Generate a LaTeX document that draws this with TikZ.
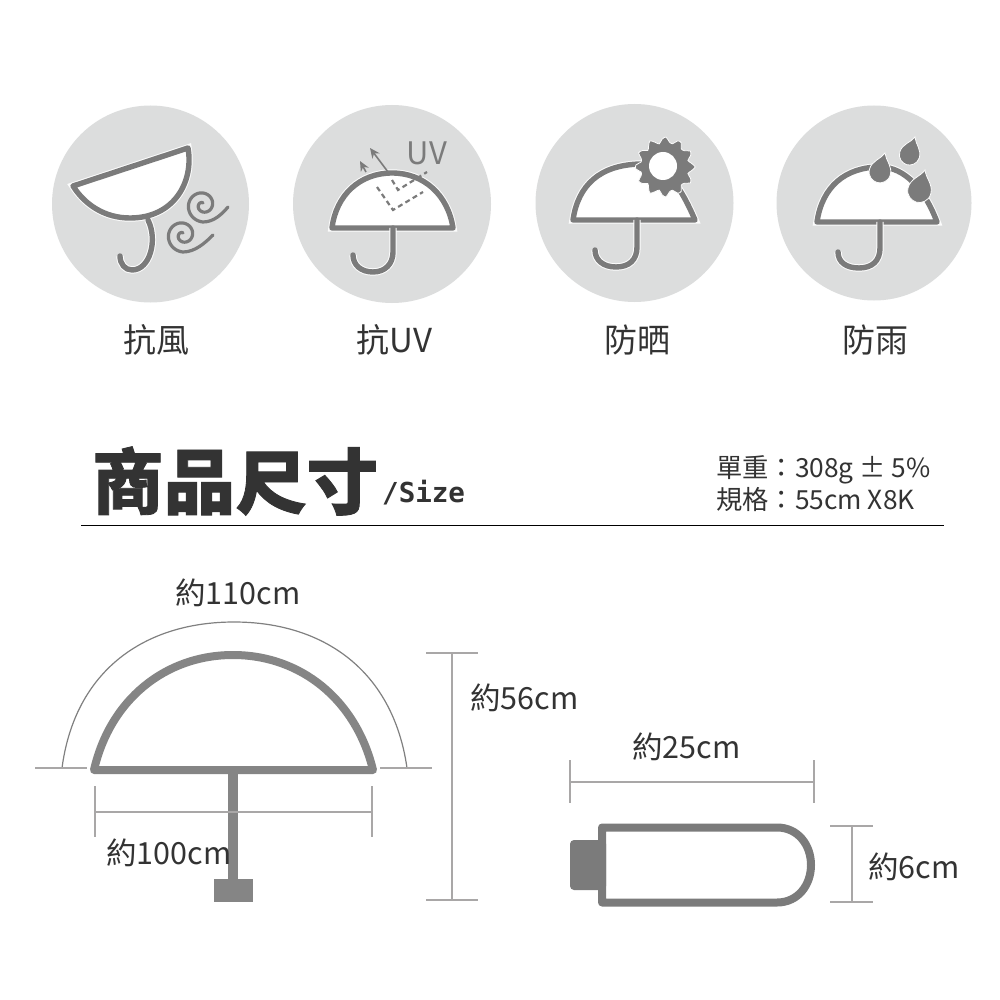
\documentclass[tikz,border=0pt]{standalone}
\usepackage{fontspec}
\usetikzlibrary{arrows.meta}
\setmainfont{Noto Sans CJK TC}
\newfontfamily\headfont[BoldFeatures={FakeBold=1.2}]{Noto Sans CJK TC}
\newfontfamily\sizefont{DejaVu Sans Mono}
\definecolor{disc}{HTML}{DCDDDD}
\definecolor{ink}{HTML}{7B7B7B}
\definecolor{bigink}{HTML}{858585}
\definecolor{dimc}{HTML}{A9A7A7}
\definecolor{txt}{HTML}{333333}
\tikzset{
  x=1pt,y=-1pt,
  discshape/.style={fill=disc,draw=none},
  iconline/.style={draw=ink,line width=5.4pt,line cap=round,line join=round,
    preaction={draw=white!92!disc,line width=7.4pt}},
  canopy/.style={iconline,fill=white},
  thinicon/.style={draw=ink,line width=3.2pt,line cap=round},
  dashray/.style={draw=ink,line width=2.2pt,dash pattern=on 5pt off 3.5pt},
  ray/.style={draw=ink,line width=1.6pt,-{Stealth[length=10pt,width=9pt]}},
  dropfill/.style={fill=ink,draw=white!92!disc,line width=.8pt},
  dimline/.style={draw=dimc,line width=1.6pt},
  archline/.style={draw=black!50,line width=1.2pt},
  bigline/.style={draw=bigink,line width=8pt,line join=round,line cap=round},
  label/.style={text=txt,inner sep=0pt,font=\fontsize{33}{36}\selectfont},
  dimlabel/.style={text=txt,inner sep=0pt,anchor=west,font=\fontsize{30.5}{34}\selectfont},
  speclabel/.style={text=txt,inner sep=0pt,anchor=west,font=\fontsize{26.3}{30}\selectfont}
}
\newcommand{\mydrop}[4]{%
  \begin{scope}[shift={(#1,#2)},rotate=#3,scale=#4]
    \path[dropfill] (0,0) .. controls (3,8) and (12,12) .. (12,22)
      .. controls (12,30) and (5,34) .. (0,34)
      .. controls (-5,34) and (-12,30) .. (-12,22)
      .. controls (-12,12) and (-3,8) .. (0,0) -- cycle;
  \end{scope}}
\begin{document}
\begin{tikzpicture}
\useasboundingbox (0,0) rectangle (1000,1000);
\fill[white] (0,0) rectangle (1000,1000);

% discs
\fill[discshape] (150.5,204) circle[radius=98.5];
\fill[discshape] (392,204) circle[radius=99];
\fill[discshape] (634.5,203) circle[radius=99];
\fill[discshape] (874,203) circle[radius=97.5];

% icon 1: wind
\path[canopy] (73,186) -- (188,148) .. controls (194,182) and (174,218) .. (130,218)
  .. controls (105,218) and (85,205) .. (73,186) -- cycle;
\path[iconline] (148,220) .. controls (158,240) and (150,270) .. (132,270)
  .. controls (125,270) and (120,264) .. (120,256);
\draw[thinicon] plot[domain=630:90,samples=80]
   ({203+(2+15*(630-\x)/540)*cos(\x)},{205+(2+15*(630-\x)/540)*sin(\x)})
   .. controls (214,222) and (222,214) .. (228,207);
\draw[thinicon] plot[domain=630:90,samples=80]
   ({183+(2+15*(630-\x)/540)*cos(\x)},{235+(2+15*(630-\x)/540)*sin(\x)})
   .. controls (195,252) and (205,243) .. (213,235);

% icon 2: UV
\path[canopy] (332,228) .. controls (336,195) and (360,173) .. (392,173)
  .. controls (424,173) and (448,195) .. (453,228) -- cycle;
\path[iconline] (393,228) -- (393,252) .. controls (393,264) and (385,272) .. (373,272)
  .. controls (361,272) and (353,265) .. (353,255);
\draw[dashray] (377,187) -- (393,210) -- (423,192);
\draw[dashray] (392,180) -- (398,190) -- (427,172);
\draw[ray] (388,172) -- (370,148);
\draw[ray] (366,172) -- (360,161);
\node[inner sep=0pt,text=ink,font=\fontsize{31}{34}\selectfont] (uv) at (427,153) {UV};

% icon 3: sun
\path[canopy] (573,220) .. controls (578,185) and (600,165) .. (640,164)
  .. controls (665,164) and (680,185) .. (695,220) -- cycle;
\path[iconline] (637,220) -- (637,247) .. controls (637,260) and (629,267) .. (616,267)
  .. controls (603,267) and (595,260) .. (595,250);
\draw[fill=ink,draw=white!92!disc,line width=.8pt] plot[smooth cycle,domain=0:352,samples=45]
  ({665+(27+3.2*cos(12*\x))*cos(\x)},{167+(27+3.2*cos(12*\x))*sin(\x)});
\fill[white] (663,166) circle[radius=14];

% icon 4: rain
\path[canopy] (817,222) .. controls (822,187) and (845,167) .. (880,167)
  .. controls (905,167) and (925,190) .. (937,222) -- cycle;
\path[iconline] (880,222) -- (880,248) .. controls (880,261) and (872,268) .. (859,268)
  .. controls (846,268) and (838,262) .. (838,252);
\mydrop{915}{137}{-17}{.85}
\mydrop{885}{153}{-15}{.9}
\mydrop{925}{170}{-15}{.98}

% captions
\node[label] (capa) at (156,340) {抗風};
\node[label] (capb) at (394.5,340) {抗UV};
\node[label] (capc) at (637,340) {防晒};
\node[label] (capd) at (875,340) {防雨};

% heading
\node[inner sep=0pt,anchor=west,text=txt,font=\headfont\bfseries\fontsize{71.5}{76}\selectfont] (head) at (92,481) {商品尺寸};
\node[inner sep=0pt,anchor=west,text=txt,font=\sizefont\bfseries\fontsize{27.5}{30}\selectfont] (size) at (382,493) {/Size};
\node[speclabel] (speca) at (716,470) {單重：308g ± 5\%};
\node[speclabel] (specb) at (716,500) {規格：55cm X8K};
\draw[black,line width=1.3pt] (81,525.5) -- (944,525.5);

% open umbrella
\draw[archline] (62,768) .. controls (75,670) and (145,622) .. (234,622)
  .. controls (323,622) and (393,670) .. (407,768);
\draw[dimline] (35,768) -- (87,768);
\draw[dimline] (380,768) -- (432,768);
\draw[bigline] (94,770) .. controls (110,700) and (165,655) .. (233,655)
  .. controls (301,655) and (356,700) .. (373,770) -- cycle;
\draw[draw=bigink,line width=10pt] (233,770) -- (233,882);
\fill[bigink] (214,879) rectangle (253,902);
\draw[dimline] (95,786) -- (95,837);
\draw[dimline] (372,786) -- (372,837);
\draw[dimline] (95,812) -- (372,812);
\draw[dimline] (426,653) -- (478,653);
\draw[dimline] (426,900) -- (478,900);
\draw[dimline,line width=1.3pt] (452,653) -- (452,900);
\node[dimlabel] (d110) at (175,593) {約110cm};
\node[dimlabel] (d100) at (106,853) {約100cm};
\node[dimlabel] (d56) at (470,698) {約56cm};

% folded umbrella
\fill[ink,rounded corners=4pt] (570,840) rectangle (606,890);
\draw[draw=ink,line width=8pt,line join=round] (602,827.5) -- (777,827.5)
  .. controls (798,827.5) and (811,845) .. (811,865)
  .. controls (811,885) and (798,902.5) .. (777,902.5) -- (602,902.5) -- cycle;
\draw[dimline] (570,760) -- (570,803);
\draw[dimline] (814,760) -- (814,803);
\draw[dimline] (570,782) -- (814,782);
\draw[dimline] (830,826) -- (873,826);
\draw[dimline] (830,902) -- (873,902);
\draw[dimline,line width=1.2pt] (852,826) -- (852,902);
\node[dimlabel] (d25) at (632,747) {約25cm};
\node[dimlabel] (d6) at (868,867) {約6cm};
\end{tikzpicture}
\end{document}
